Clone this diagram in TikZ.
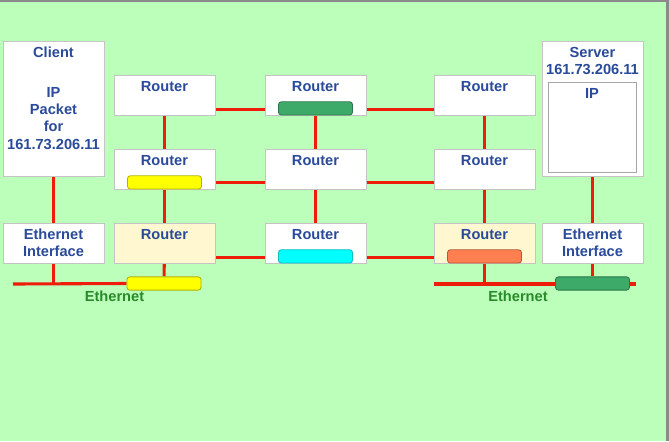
\documentclass[tikz,border=0pt]{standalone}
\usepackage{fontspec}
\setmainfont{Liberation Sans}
\usetikzlibrary{positioning}
\pgfdeclarelayer{back}
\pgfdeclarelayer{wires}
\pgfsetlayers{back,wires,main}
\definecolor{slidebg}{HTML}{BBFFBB}
\definecolor{frameg}{HTML}{8A8A8A}
\definecolor{boxline}{HTML}{C4C4C4}
\definecolor{labelblue}{HTML}{2A4A9A}
\definecolor{wirered}{HTML}{EE1C0A}
\definecolor{ethgreen}{HTML}{2A8A2A}
\definecolor{paleyel}{HTML}{FFF7CF}
\definecolor{nicgreen}{HTML}{3DAA6A}
\definecolor{nicorange}{HTML}{FF7F50}
\definecolor{nicaqua}{HTML}{00FFFF}
\definecolor{nicyel}{HTML}{FFFF00}

\begin{document}
\begin{tikzpicture}[
  x=0.025cm, y=-0.025cm,
  font=\fontsize{10.4}{12.1}\selectfont\bfseries,
  box/.style={rectangle, draw=boxline, fill=white, line width=0.6pt, text=labelblue},
  router/.style={box, minimum width=2.525cm, inner ysep=0pt,
                 text height=12pt, text depth=16.45pt},
  host/.style={box, inner xsep=0pt, text width=2.525cm, align=center,
               inner ysep=0pt, text height=12pt, text depth=84pt},
  ethif/.style={box, minimum width=2.525cm, minimum height=1cm, align=center},
  ipbox/.style={box, draw=black!35, minimum width=2.2cm, inner ysep=0pt,
                text height=11.4pt, text depth=52.6pt},
  bar/.style={rectangle, rounded corners=2pt, minimum width=1.85cm,
              minimum height=0.33cm, inner sep=0pt, line width=0.6pt},
  wire/.style={draw=wirered, line width=2.2pt},
  ethlab/.style={text=ethgreen, anchor=base}
]
\useasboundingbox (0,0) rectangle (669,441);
\begin{pgfonlayer}{back}
  \fill[slidebg] (0,0) rectangle (669,441);
  \fill[frameg] (0,0) rectangle (669,2);
  \fill[frameg] (666,0) rectangle (669,441);
\end{pgfonlayer}

% end hosts
\node[host] (client) at (53.5,108.5) {Client\\[16.4pt]IP\\Packet\\for\\161.73.206.11};
\node[ethif] (ethIfL) at (53.5,243) {Ethernet\\Interface};
\node[host] (server) at (592.5,108.5) {Server\\161.73.206.11};
\node[ipbox] (ipSrv) at (592,127) {IP};
\node[ethif] (ethIfR) at (592.5,243) {Ethernet\\Interface};

% routers, three rows by three columns
\node[router] (rt11) at (164.5,95) {Router};
\node[router] (rt12) at (315.5,95) {Router};
\node[router] (rt13) at (484.5,95) {Router};
\node[router] (rt21) at (164.5,169) {Router};
\node[router] (rt22) at (315.5,169) {Router};
\node[router] (rt23) at (484.5,169) {Router};
\node[router, fill=paleyel] (rt31) at (164.5,243) {Router};
\node[router] (rt32) at (315.5,243) {Router};
\node[router, fill=paleyel] (rt33) at (484.5,243) {Router};

% interface cards
\node[bar, fill=nicgreen, draw=nicgreen!70!black, anchor=south] (nic12) at (rt12.south) {};
\node[bar, fill=nicyel, draw=nicyel!70!black, anchor=south] (nic21) at (rt21.south) {};
\node[bar, fill=nicaqua, draw=nicaqua!75!black, anchor=south] (nic32) at (rt32.south) {};
\node[bar, fill=nicorange, draw=nicorange!70!black, anchor=south] (nic33) at (rt33.south) {};
\node[bar, fill=nicyel, draw=nicyel!70!black] (nicLanL) at (164,283.5) {};
\node[bar, fill=nicgreen, draw=nicgreen!70!black] (nicLanR) at (592.5,283.5) {};

% the two ethernets
\coordinate (lanL) at (13,284);
\coordinate (lanR) at (434,284);
\coordinate (lanRend) at (636,284);
\node[ethlab] (ethLabL) at (114.5,301) {Ethernet};
\node[ethlab] (ethLabR) at (518,301) {Ethernet};

\begin{pgfonlayer}{wires}
  \draw[wire] (client) -- (ethIfL);
  \draw[wire] (ethIfL.south) -- (ethIfL.south |- lanL);
  \draw[wire] (lanL) -- (nicLanL.west);
  \draw[wire] (lanR) -- (lanRend);
  \draw[wire] (server) -- (ethIfR);
  \draw[wire] (ethIfR) -- (nicLanR);
  % columns
  \draw[wire] (rt11) -- (rt21);
  \draw[wire] (rt21) -- (rt31);
  \draw[wire] (rt31) -- (nicLanL);
  \draw[wire] (rt12) -- (rt22);
  \draw[wire] (rt22) -- (rt32);
  \draw[wire] (rt13) -- (rt23);
  \draw[wire] (rt23) -- (rt33);
  \draw[wire] (rt33.south) -- (rt33.south |- lanR);
  % rows
  \draw[wire] ([yshift=0.15cm]rt11.south east) -- ([yshift=0.15cm]rt12.south west);
  \draw[wire] ([yshift=0.15cm]rt12.south east) -- ([yshift=0.15cm]rt13.south west);
  \draw[wire] ([yshift=0.17cm]rt21.south east) -- ([yshift=0.17cm]rt22.south west);
  \draw[wire] ([yshift=0.17cm]rt22.south east) -- ([yshift=0.17cm]rt23.south west);
  \draw[wire] ([yshift=0.15cm]rt31.south east) -- ([yshift=0.15cm]rt32.south west);
  \draw[wire] ([yshift=0.15cm]rt32.south east) -- ([yshift=0.15cm]rt33.south west);
\end{pgfonlayer}
\end{tikzpicture}
\end{document}
